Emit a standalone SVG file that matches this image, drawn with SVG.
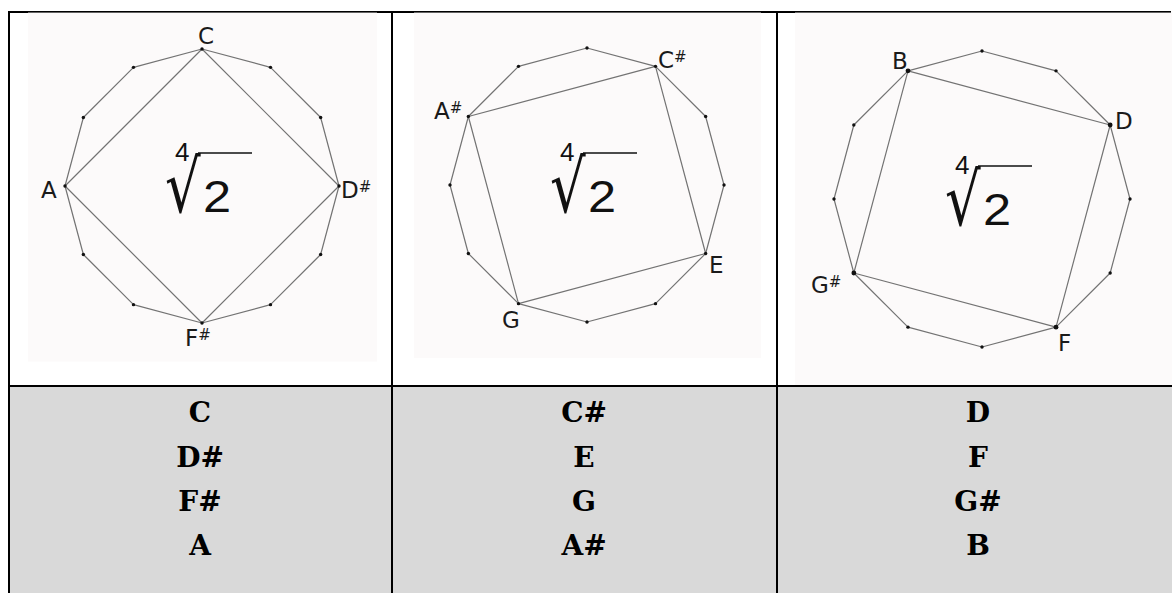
<svg xmlns="http://www.w3.org/2000/svg" width="1172" height="593" viewBox="0 0 1172 593">
<style>
.photo{fill:#fcfafa}
.poly{fill:none;stroke:#737373;stroke-width:1.2;stroke-linejoin:round}
.dot{fill:#111}
.lbl{font-family:"DejaVu Sans",sans-serif;font-size:23px;fill:#1a1a1a}
.sh{font-size:15px}
.num{font-family:"Liberation Sans",Arial,sans-serif;fill:#111}
.rad{font-family:"DejaVu Sans",sans-serif;fill:#111}
.vin{stroke:#111;stroke-width:1.6}
.note{font-family:"DejaVu Serif",serif;font-weight:bold;font-size:28px;fill:#000;text-anchor:middle}
.rule{stroke:#000;stroke-width:2;fill:none}
</style>
<rect x="0" y="0" width="1172" height="593" fill="#ffffff"/>
<rect x="9" y="386" width="1163" height="207" fill="#d9d9d9"/>
<g id="table-rules">
<line class="rule" x1="8" y1="12" x2="1171" y2="12"/>
<line class="rule" x1="9" y1="11" x2="9" y2="593"/>
<line class="rule" x1="392" y1="11" x2="392" y2="593"/>
<line class="rule" x1="777" y1="11" x2="777" y2="593"/>
<line class="rule" x1="8" y1="386" x2="1172" y2="386"/>
</g>

<g id="cell1">
<rect class="photo" x="28" y="12.6" width="349" height="349"/>
<polygon class="poly" points="202,49 270.5,67.36 320.64,117.5 339,186 320.64,254.5 270.5,304.64 202,323 133.5,304.64 83.36,254.5 65,186 83.36,117.5 133.5,67.36"/>
<polygon class="poly" points="202,49 339,186 202,323 65,186"/>
<g class="dot">
<circle cx="202" cy="49" r="1.7"/><circle cx="270.5" cy="67.36" r="1.7"/><circle cx="320.64" cy="117.5" r="1.7"/><circle cx="339" cy="186" r="1.7"/><circle cx="320.64" cy="254.5" r="1.7"/><circle cx="270.5" cy="304.64" r="1.7"/><circle cx="202" cy="323" r="1.7"/><circle cx="133.5" cy="304.64" r="1.7"/><circle cx="83.36" cy="254.5" r="1.7"/><circle cx="65" cy="186" r="1.7"/><circle cx="83.36" cy="117.5" r="1.7"/><circle cx="133.5" cy="67.36" r="1.7"/>
</g>
<text class="lbl" x="206" y="44" text-anchor="middle">C</text>
<text class="lbl" x="41" y="198">A</text>
<text class="lbl" x="341" y="198">D<tspan class="sh" dy="-6">#</tspan></text>
<text class="lbl" x="185" y="346">F<tspan class="sh" dy="-6">#</tspan></text>
<g id="formula1">
<text class="num" x="175" y="161" font-size="26">4</text>
<text class="rad" x="165" y="212" font-size="56" transform="matrix(1,0,0,1.3,0,-63.6)">√</text>
<line class="vin" x1="198" y1="153" x2="252" y2="153"/>
<text class="num" x="203" y="212" font-size="44" transform="matrix(1.15,0,0,1,-30.45,0)">2</text>
</g>
</g>

<g id="cell2">
<rect class="photo" x="414" y="12.6" width="347" height="345.4"/>
<polygon class="poly" points="587,48 655.5,66.36 705.64,116.5 724,185 705.64,253.5 655.5,303.64 587,322 518.5,303.64 468.36,253.5 450,185 468.36,116.5 518.5,66.36"/>
<polygon class="poly" points="655.5,66.36 705.64,253.5 518.5,303.64 468.36,116.5"/>
<g class="dot">
<circle cx="587" cy="48" r="1.7"/><circle cx="655.5" cy="66.36" r="1.7"/><circle cx="705.64" cy="116.5" r="1.7"/><circle cx="724" cy="185" r="1.7"/><circle cx="705.64" cy="253.5" r="1.7"/><circle cx="655.5" cy="303.64" r="1.7"/><circle cx="587" cy="322" r="1.7"/><circle cx="518.5" cy="303.64" r="1.7"/><circle cx="468.36" cy="253.5" r="1.7"/><circle cx="450" cy="185" r="1.7"/><circle cx="468.36" cy="116.5" r="1.7"/><circle cx="518.5" cy="66.36" r="1.7"/>
</g>
<text class="lbl" x="658" y="68">C<tspan class="sh" dy="-6">#</tspan></text>
<text class="lbl" x="434" y="119">A<tspan class="sh" dy="-6">#</tspan></text>
<text class="lbl" x="709" y="273">E</text>
<text class="lbl" x="502" y="328">G</text>
<g id="formula2" transform="translate(385,0)">
<text class="num" x="175" y="161" font-size="26">4</text>
<text class="rad" x="165" y="212" font-size="56" transform="matrix(1,0,0,1.3,0,-63.6)">√</text>
<line class="vin" x1="198" y1="153" x2="252" y2="153"/>
<text class="num" x="203" y="212" font-size="44" transform="matrix(1.15,0,0,1,-30.45,0)">2</text>
</g>
</g>

<g id="cell3">
<rect class="photo" x="795" y="12.6" width="377" height="372.4"/>
<polygon class="poly" points="982,51 1056,70.83 1110.17,125 1130,199 1110.17,273 1056,327.17 982,347 908,327.17 853.83,273 834,199 853.83,125 908,70.83"/>
<polygon class="poly" points="908,70.83 1110.17,125 1056,327.17 853.83,273"/>
<g class="dot">
<circle cx="982" cy="51" r="1.7"/><circle cx="1056" cy="70.83" r="1.7"/><circle cx="1110.17" cy="125" r="2.4"/><circle cx="1130" cy="199" r="1.7"/><circle cx="1110.17" cy="273" r="1.7"/><circle cx="1056" cy="327.17" r="2.4"/><circle cx="982" cy="347" r="1.7"/><circle cx="908" cy="327.17" r="1.7"/><circle cx="853.83" cy="273" r="2.4"/><circle cx="834" cy="199" r="1.7"/><circle cx="853.83" cy="125" r="1.7"/><circle cx="908" cy="70.83" r="2.4"/>
</g>
<text class="lbl" x="892" y="69" font-size="24">B</text>
<text class="lbl" x="1115" y="129" font-size="24">D</text>
<text class="lbl" x="811" y="293" font-size="24">G<tspan class="sh" dy="-6">#</tspan></text>
<text class="lbl" x="1058" y="351" font-size="24">F</text>
<g id="formula3" transform="translate(780,13)">
<text class="num" x="175" y="161" font-size="26">4</text>
<text class="rad" x="165" y="212" font-size="56" transform="matrix(1,0,0,1.3,0,-63.6)">√</text>
<line class="vin" x1="198" y1="153" x2="252" y2="153"/>
<text class="num" x="203" y="212" font-size="44" transform="matrix(1.15,0,0,1,-30.45,0)">2</text>
</g>
</g>

<g id="notes1">
<text class="note" x="200" y="422">C</text>
<text class="note" x="200" y="467">D#</text>
<text class="note" x="200" y="511">F#</text>
<text class="note" x="200" y="555">A</text>
</g>
<g id="notes2">
<text class="note" x="584" y="422">C#</text>
<text class="note" x="584" y="467">E</text>
<text class="note" x="584" y="511">G</text>
<text class="note" x="584" y="555">A#</text>
</g>
<g id="notes3">
<text class="note" x="978" y="422">D</text>
<text class="note" x="978" y="467">F</text>
<text class="note" x="978" y="511">G#</text>
<text class="note" x="978" y="555">B</text>
</g>
</svg>
